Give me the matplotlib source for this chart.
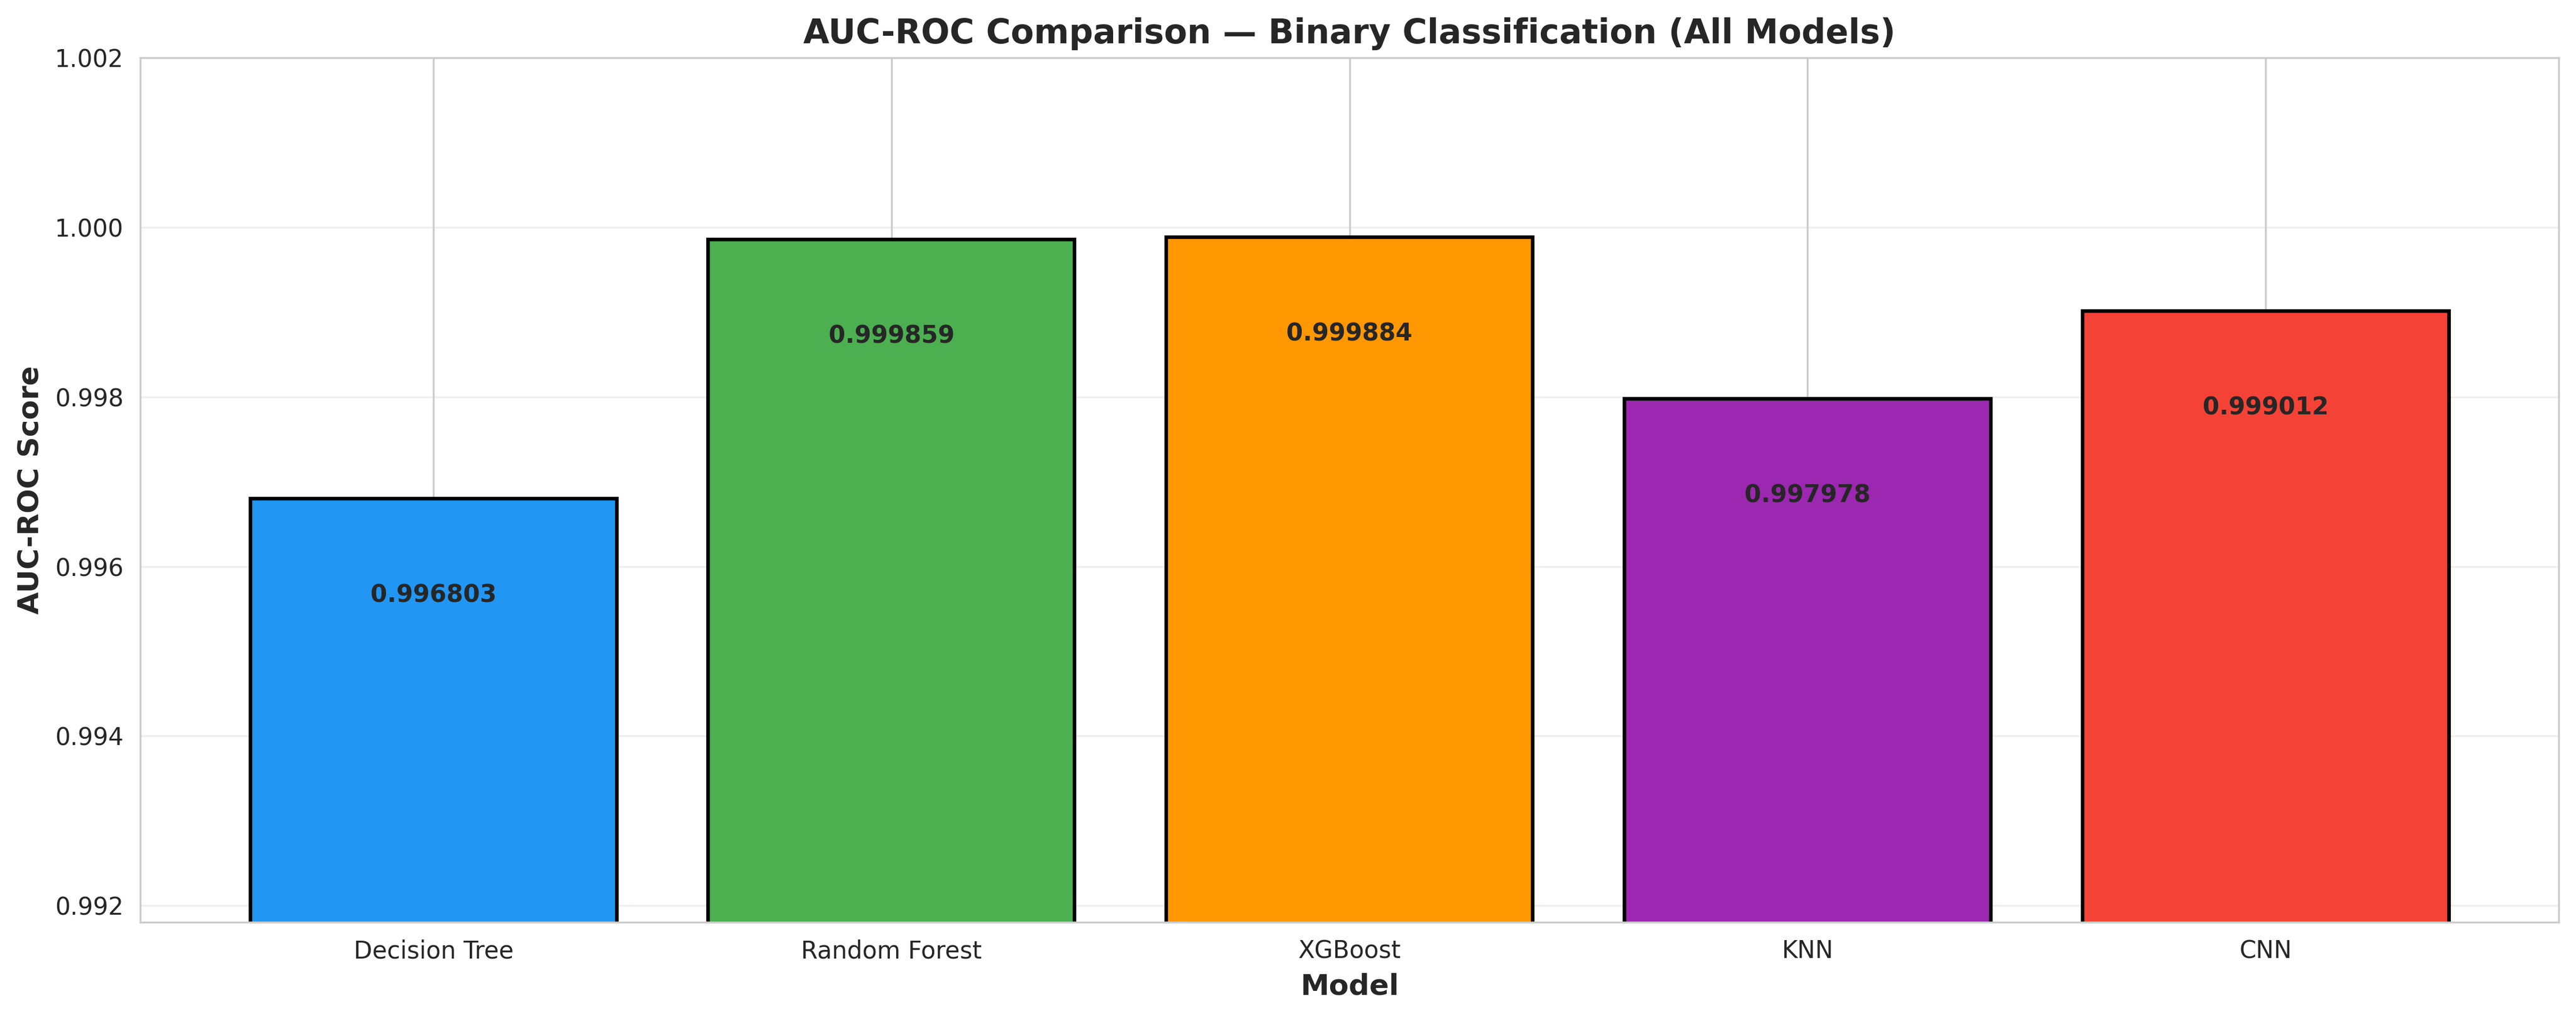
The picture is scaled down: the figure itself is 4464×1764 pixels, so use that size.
import numpy as np
import matplotlib.pyplot as plt
import seaborn as sns

sns.set_style("whitegrid")

models = ["Decision Tree", "Random Forest", "XGBoost", "KNN", "CNN"]
auc_scores = [0.996803, 0.999859, 0.999884, 0.997978, 0.999012]
colors = ["#2196F3", "#4CAF50", "#FF9800", "#9C27B0", "#F44336"]

fig, ax = plt.subplots(figsize=(15, 6))
bars = ax.bar(models, auc_scores, color=colors, edgecolor="black", linewidth=1.5)

for bar, score in zip(bars, auc_scores):
    ax.text(bar.get_x() + bar.get_width() / 2, score - 0.001, f"{score:.6f}",
            ha="center", va="top", fontsize=10, fontweight="bold", color="#262626")

ax.set_ylim(min(auc_scores) - 0.005, 1.002)
ax.set_xlabel("Model", fontsize=12, fontweight="bold")
ax.set_ylabel("AUC-ROC Score", fontsize=12, fontweight="bold")
ax.set_title("AUC-ROC Comparison — Binary Classification (All Models)",
             fontsize=14, fontweight="bold")
ax.grid(axis="y", alpha=0.3)

plt.tight_layout()
plt.savefig("out.png", dpi=300, bbox_inches="tight")
